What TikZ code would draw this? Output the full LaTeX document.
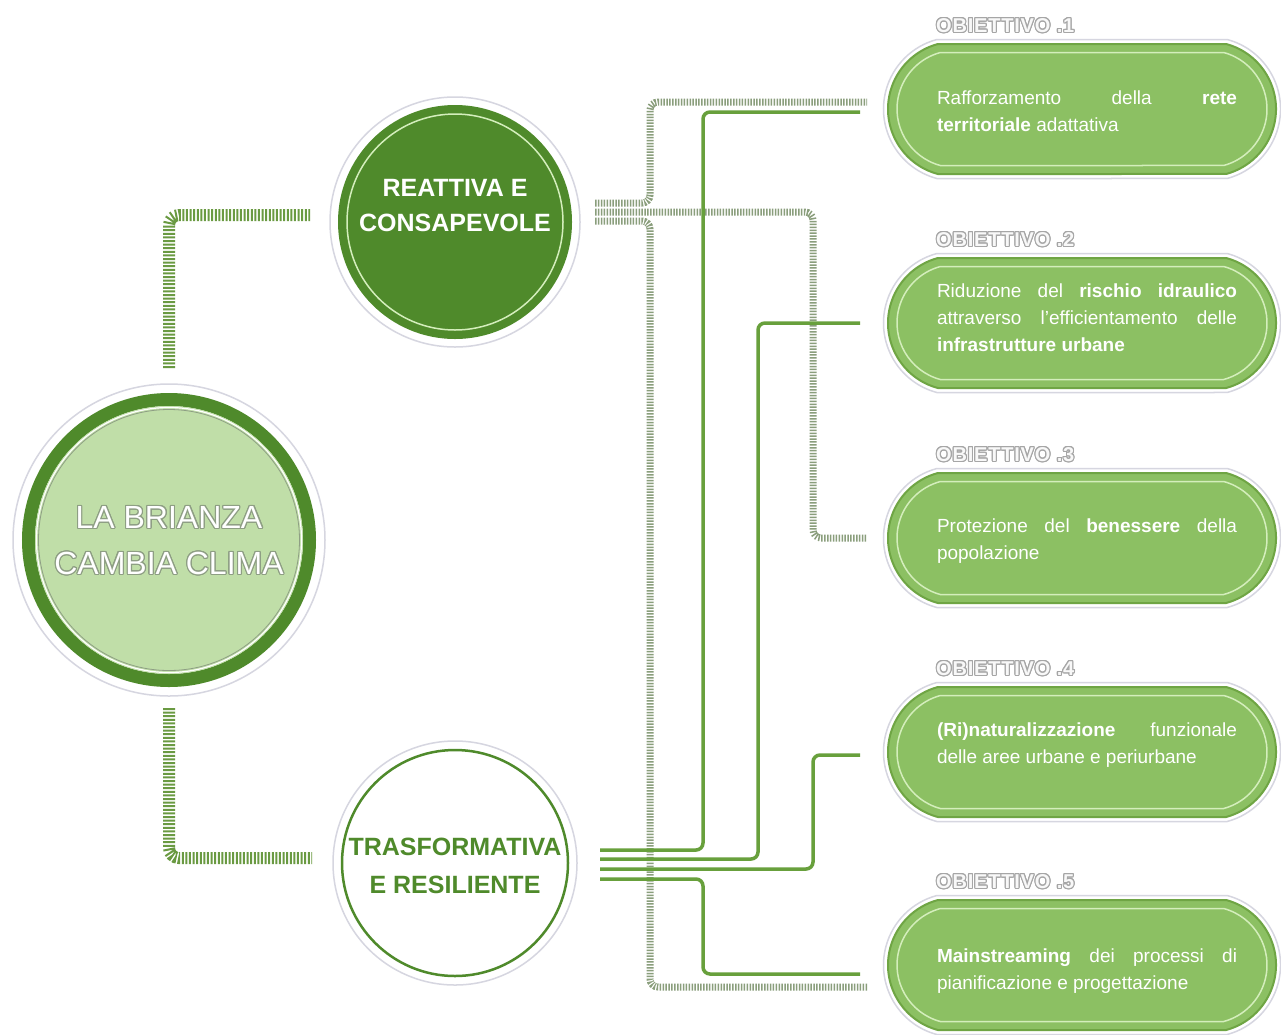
\documentclass[tikz,border=0pt]{standalone}
\usepackage{fontspec}
\setmainfont{Liberation Sans}
\usepackage[copies]{contour}
\usetikzlibrary{calc,shapes.misc}
\definecolor{dkgreen}{HTML}{4F8A2B}
\definecolor{ltfill}{HTML}{C0DEA8}
\definecolor{pillgreen}{HTML}{8CC063}
\definecolor{pilledge}{HTML}{6FA544}
\definecolor{pillinner}{HTML}{D4EEBC}
\definecolor{ringgrey}{HTML}{D6D6E0}
\definecolor{solidgreen}{HTML}{68A03C}
\definecolor{hatchLc}{HTML}{6A9A42}
\definecolor{hatchRc}{HTML}{8A9E7C}
\definecolor{lblgrey}{HTML}{A6A6A6}
\definecolor{titleedge}{HTML}{8E9E84}
\contourlength{1.1pt}
\newcommand\objbox[5]{% name, y, number, text y, text
  \node[pillout] (#1x) at (1082,#2) {};
  \node[pillbody] (#1) at (1082,#2) {};
  \node[pillin] (#1y) at (1082,#2) {};
  \node[pilltext] (#1t) at (1087,#4) {#5};
  \node[objlbl] (#1l) at (936,#2-83) {\contour{lblgrey}{\textcolor{white!92!lblgrey}{OBIETTIVO .#3}}};
}
\begin{document}
\begin{tikzpicture}[x=1pt,y=-1pt,
  hatchl/.style={draw=hatchLc, line width=12pt, dash pattern=on 2pt off 1.6pt, rounded corners=10pt},
  hatchr/.style={draw=hatchRc, line width=7pt, dash pattern=on 1.5pt off 1.4pt, rounded corners=8pt},
  solidc/.style={draw=solidgreen, line width=3.5pt, rounded corners=7pt},
  pillshape/.style={rounded rectangle, rounded rectangle arc length=150, inner sep=0pt, outer sep=0pt},
  pillbody/.style={pillshape, minimum width=388pt, minimum height=130pt, fill=pillgreen, draw=pilledge, line width=2pt},
  pillout/.style={pillshape, minimum width=397pt, minimum height=139pt, draw=ringgrey, line width=1.5pt},
  pillin/.style={pillshape, minimum width=370pt, minimum height=113pt, draw=pillinner, line width=1.5pt},
  pilltext/.style={text width=300pt, align=justify, inner sep=0pt, text=white, font=\fontsize{19}{27}\selectfont},
  objlbl/.style={anchor=west, inner sep=0pt, font=\bfseries\fontsize{20}{22}\selectfont\addfontfeature{LetterSpace=4}},
  ringnode/.style={circle, inner sep=0pt, outer sep=0pt, draw=ringgrey, line width=1.5pt}
]
\useasboundingbox (0,0) rectangle (1281,1034);
\fill[white] (0,0) rectangle (1281,1034);

% ---- circles ----
\node[ringnode, minimum size=312pt] (main) at (169,540) {};
\draw[dkgreen, line width=13pt] (main.center) circle[radius=140.5];
\fill[ltfill] (main.center) circle[radius=134];
\draw[white, line width=1.2pt] (main.center) circle[radius=132.5];
\draw[titleedge, line width=0.8pt] (main.center) circle[radius=130.5];
\node[align=center, inner sep=0pt, font=\fontsize{32}{46}\selectfont] (mainlbl) at (169,541)
  {\contour{titleedge}{\textcolor{white}{LA BRIANZA}}\\\contour{titleedge}{\textcolor{white}{CAMBIA CLIMA}}};

\node[ringnode, minimum size=250pt] (reat) at (455,222) {};
\fill[dkgreen] (reat.center) circle[radius=117];
\draw[pillinner, line width=1.5pt] (reat.center) circle[radius=108];
\node[align=center, inner sep=0pt, text=white, font=\bfseries\fontsize{25}{35}\selectfont] (reatlbl) at (455,206)
  {REATTIVA E\\CONSAPEVOLE};

\node[ringnode, minimum size=244pt] (tras) at (455,863) {};
\draw[dkgreen, line width=2.5pt] (tras.center) circle[radius=113];
\node[align=center, inner sep=0pt, text=dkgreen, font=\bfseries\fontsize{25}{38}\selectfont] (traslbl) at (455,866)
  {TRASFORMATIVA\\E RESILIENTE};

% ---- objective boxes ----
\objbox{o1}{109}{1}{111}{\tolerance=10000 \hbadness=10000 Rafforzamento della \textbf{rete}\linebreak \textbf{territoriale} adattativa}
\objbox{o2}{323}{2}{318}{\tolerance=10000 \hbadness=10000 \fontsize{19}{26}\selectfont Riduzione del \textbf{rischio idraulico}\linebreak attraverso l'efficientamento delle\linebreak \textbf{infrastrutture urbane}}
\objbox{o3}{538}{3}{541}{\tolerance=10000 \hbadness=10000 Protezione del \textbf{benessere} della\linebreak popolazione}
\objbox{o4}{752}{4}{745}{\tolerance=10000 \hbadness=10000 \textbf{(Ri)naturalizzazione} funzionale\linebreak delle aree urbane e periurbane}
\objbox{o5}{965}{5}{971}{\tolerance=10000 \hbadness=10000 \textbf{Mainstreaming} dei processi di\linebreak pianificazione e progettazione}

% ---- hatched connectors (left) ----
\draw[hatchl] ([yshift=16pt]main.north) |- ([xshift=-20pt,yshift=7pt]reat.west);
\draw[hatchl] ([yshift=-12pt]main.south) |- ([xshift=-21pt,yshift=5pt]tras.west);

% ---- hatched connectors (right) ----
\draw[hatchr] ([xshift=15pt,yshift=19pt]reat.east) -| ([xshift=-238pt,yshift=7pt]o1.west) -- ([xshift=-21pt,yshift=7pt]o1.west);
\draw[hatchr] ([xshift=15pt,yshift=10pt]reat.east) -| ([xshift=-75pt]o3.west) -- ([xshift=-21pt]o3.west);
\draw[hatchr] ([xshift=15pt,yshift=1pt]reat.east) -| ([xshift=-238pt,yshift=-22pt]o5.west) -- ([xshift=-21pt,yshift=-22pt]o5.west);

% ---- solid connectors ----
\draw[solidc] ([xshift=23pt,yshift=13pt]tras.east) -| ([xshift=-185pt,yshift=-3pt]o1.west) -- ([xshift=-28pt,yshift=-3pt]o1.west);
\draw[solidc] ([xshift=23pt,yshift=4pt]tras.east) -| ([xshift=-130pt]o2.west) -- ([xshift=-28pt]o2.west);
\draw[solidc] ([xshift=23pt,yshift=-6pt]tras.east) -| ([xshift=-75pt,yshift=-3pt]o4.west) -- ([xshift=-28pt,yshift=-3pt]o4.west);
\draw[solidc] ([xshift=23pt,yshift=-16pt]tras.east) -| ([xshift=-185pt,yshift=-9pt]o5.west) -- ([xshift=-28pt,yshift=-9pt]o5.west);
\end{tikzpicture}
\end{document}
